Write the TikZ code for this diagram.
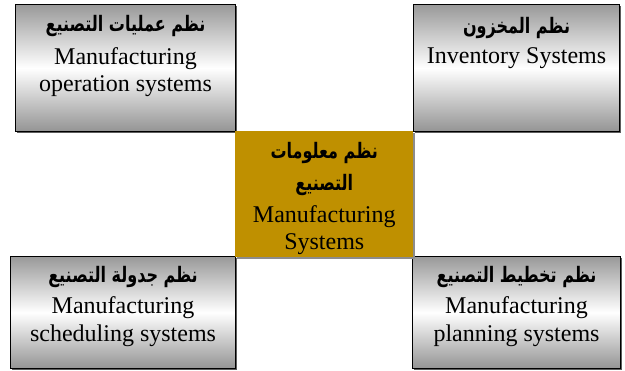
\documentclass[tikz,border=0pt]{standalone}
\usepackage{fontspec}
\setmainfont{Liberation Serif}
\newfontfamily\arabicfont[Script=Arabic, FakeStretch=0.75]{DejaVu Sans}
\TeXXeTstate=1
\usetikzlibrary{positioning,shadows}
\definecolor{coregold}{HTML}{BF9000}

\begin{document}
\begin{tikzpicture}[%
        x=0.75pt,
        y=-0.75pt,
        inner sep=0pt,
        sysbox/.style={%
            anchor=north west,
            draw=black, line width=0.8pt,
            top color=black!40, bottom color=black!42, middle color=white,
            drop shadow={shadow xshift=0.8pt, shadow yshift=-0.8pt, fill=black!80, opacity=0.8},
        },
        corebox/.style={%
            anchor=north west,
            fill=coregold,
            drop shadow={shadow xshift=1.2pt, shadow yshift=-1.2pt, fill=black!45, opacity=1},
        },
        arname/.style={%
            node font=\arabicfont\bfseries\fontsize{16}{24}\selectfont,
            align=center,
        },
        enname/.style={%
            node font=\fontsize{18}{20.5}\selectfont,
            align=center,
        },
    ]

    \useasboundingbox (0,0) rectangle (625,371);

    % outer systems
    \node (operation_box) at (15,4) [sysbox, minimum width=165pt, minimum height=95.25pt] {};
    \node (operation_ar) [arname, below=8.5pt of operation_box.north] {\beginR نظم عمليات التصنيع\endR};
    \node [enname, below=7.5pt of operation_ar] {Manufacturing\\operation systems};

    \node (inventory_box) at (413,4) [sysbox, minimum width=154.5pt, minimum height=95.25pt] {};
    \node (inventory_ar) [arname, below=9.5pt of inventory_box.north] {\beginR نظم المخزون\endR};
    \node [enname, below=6.5pt of inventory_ar] {Inventory Systems};

    \node (scheduling_box) at (10,256) [sysbox, minimum width=168.75pt, minimum height=84pt] {};
    \node (scheduling_ar) [arname, below=7.5pt of scheduling_box.north] {\beginR نظم جدولة التصنيع\endR};
    \node [enname, below=6.5pt of scheduling_ar] {Manufacturing\\scheduling systems};

    \node (planning_box) at (412,256) [sysbox, minimum width=156pt, minimum height=84pt] {};
    \node (planning_ar) [arname, below=7.5pt of planning_box.north] {\beginR نظم تخطيط التصنيع\endR};
    \node [enname, below=6.5pt of planning_ar] {Manufacturing\\planning systems};

    % core system
    \node (core_box) at (235,131) [corebox, minimum width=133.5pt, minimum height=94.5pt] {};
    \node (core_ar) [arname, below=8.5pt of core_box.north] {\beginR نظم معلومات\endR\\\beginR التصنيع\endR};
    \node [enname, below=6.5pt of core_ar] {Manufacturing\\Systems};
\end{tikzpicture}
\end{document}
